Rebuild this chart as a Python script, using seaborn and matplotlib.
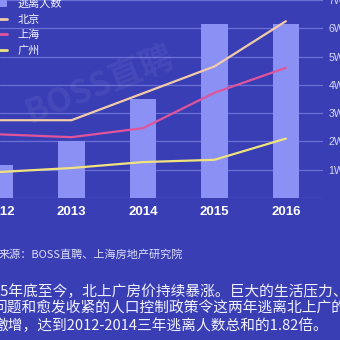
import matplotlib
matplotlib.use("Agg")
import matplotlib.pyplot as plt
import seaborn as sns
import pandas as pd
from matplotlib.patches import Patch
from matplotlib.lines import Line2D

# ---------------- data ----------------
years = ["2012", "2013", "2014", "2015", "2016"]
escape_counts = [1.15, 2.0, 3.5, 6.15, 6.15]      # 逃离人数 (W)
beijing = [2.75, 2.75, 3.7, 4.65, 6.25]
shanghai = [2.25, 2.15, 2.47, 3.72, 4.6]
guangzhou = [0.92, 1.06, 1.27, 1.35, 2.1]
ytick_values = [0, 1, 2, 3, 4, 5, 6, 7]
ytick_labels = ["", "1W", "2W", "3W", "4W", "5W", "6W", "7W"]
legend_labels = ["逃离人数", "北京", "上海", "广州"]
source_text = "来源：BOSS直聘、上海房地产研究院"
para_lines = [
    "15年底至今，北上广房价持续暴涨。巨大的生活压力、",
    "问题和愈发收紧的人口控制政策令这两年逃离北上广的",
    "激增，达到2012-2014三年逃离人数总和的1.82倍。",
]
watermark = "BOSS直聘"

# ---------------- style ----------------
BG = "#3a3eb5"
BAR = "#8a90f4"
GRID = "#6a70d6"
C_BJ = "#f2cba8"
C_SH = "#e0559a"
C_GZ = "#f0e37e"
TXT = "#f2f2ff"

sns.set_theme(style="white")
plt.rcParams['font.family'] = ['Noto Sans CJK SC', 'DejaVu Sans']

W = H = 340
fig = plt.figure(figsize=(3.4, 3.4), dpi=100, facecolor=BG)

# watermark
fig.text(100 / W, 1 - 85 / H, watermark, rotation=22, fontsize=24,
         color="white", alpha=0.06, ha="center", va="center", fontweight="bold")

ax = fig.add_axes([0, 1 - 198 / H, 323 / W, 198 / H])
ax.set_facecolor("none")

df_bar = pd.DataFrame({"year": years, "count": escape_counts})
sns.barplot(data=df_bar, x="year", y="count", color=BAR, width=0.37,
            saturation=1, linewidth=0, ax=ax, zorder=2)

x_idx = list(range(len(years)))
for vals, col in [(beijing, C_BJ), (shanghai, C_SH), (guangzhou, C_GZ)]:
    sns.lineplot(x=x_idx, y=vals, color=col, linewidth=1.6, ax=ax, zorder=3)

ax.set_xlim(0.113, 4.52)
ax.set_ylim(0, 7)
ax.set_yticks(ytick_values, ytick_labels)
ax.yaxis.tick_right()
ax.grid(axis="y", color=GRID, linewidth=0.9)
ax.grid(axis="x", visible=False)
ax.set_axisbelow(True)
ax.tick_params(axis="y", length=0, pad=4, labelsize=7.5, labelcolor="#d8daf4")
ax.set_xticks(x_idx, years)
ax.tick_params(axis="x", length=0, pad=6, labelcolor="white")
for t in ax.get_xticklabels():
    t.set_fontfamily(["Liberation Sans", "DejaVu Sans"])
    t.set_fontweight("bold")
    t.set_fontsize(9.5)
for t in ax.get_yticklabels():
    t.set_fontfamily(["Liberation Sans", "DejaVu Sans"])
ax.set_xlabel("")
ax.set_ylabel("")
for s in ax.spines.values():
    s.set_visible(False)

# legend
handles = [Patch(facecolor=BAR, edgecolor="none"),
           Line2D([], [], color=C_BJ, lw=2),
           Line2D([], [], color=C_SH, lw=2),
           Line2D([], [], color=C_GZ, lw=2)]
leg = fig.legend(handles, legend_labels, loc="upper left",
                 bbox_to_anchor=(-4 / W, 1 + 1 / H), frameon=False,
                 fontsize=8, handlelength=1.0, handletextpad=0.9,
                 labelspacing=0.45, borderpad=0, borderaxespad=0)
for t in leg.get_texts():
    t.set_color(TXT)

# source + paragraph
fig.text(-1 / W, 1 - 254 / H, source_text, fontsize=8, color="#dcdef6",
         ha="left", va="center")
for i, line in enumerate(para_lines):
    fig.text(-7 / W, 1 - (291.5 + 17 * i) / H, line, fontsize=10.6, color=TXT,
             ha="left", va="center")

fig.savefig("out.png", dpi=100, facecolor=BG)
